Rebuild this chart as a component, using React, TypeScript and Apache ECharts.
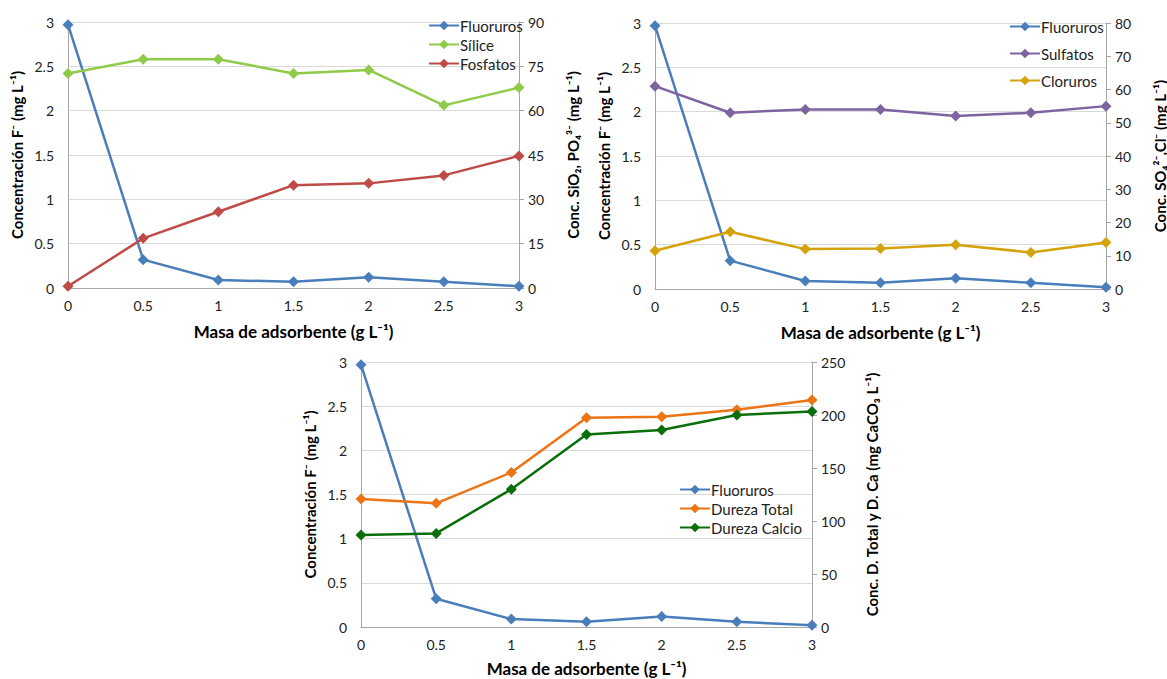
import React, { useEffect, useRef } from "react";
import * as echarts from "echarts";

const masa = [0, 0.5, 1, 1.5, 2, 2.5, 3];

// Chart 1
const fluor1 = [2.97, 0.32, 0.09, 0.07, 0.12, 0.07, 0.02];
const silice = [72.6, 77.4, 77.4, 72.6, 73.8, 61.8, 67.8];
const fosfatos = [0.6, 16.8, 25.8, 34.8, 35.4, 38.1, 44.7];

// Chart 2
const fluor2 = [2.97, 0.32, 0.09, 0.07, 0.12, 0.07, 0.02];
const sulfatos = [61, 53, 54, 54, 52, 53, 55];
const cloruros = [11.5, 17.2, 12, 12.2, 13.3, 11, 14];

// Chart 3
const fluor3 = [2.97, 0.32, 0.09, 0.06, 0.12, 0.06, 0.02];
const durezaTotal = [120.8, 116.7, 145.8, 197.5, 198.3, 205, 214.2];
const durezaCalcio = [86.7, 88.3, 130, 181.7, 185.8, 200, 203.3];

const xName = "Masa de adsorbente (g L\u207B\u00B9)";
const leftName = "Concentración F\u207B (mg L\u207B\u00B9)";
const right1Name = "Conc. SiO\u2082, PO\u2084\u00B3\u207B (mg L\u207B\u00B9)";
const right2Name = "Conc. SO\u2084\u00B2\u207B,Cl\u207B (mg L\u207B\u00B9)";
const right3Name = "Conc. D. Total y D. Ca (mg CaCO\u2083 L\u207B\u00B9)";

const FONT = "Lato, 'Open Sans', sans-serif";
const C_BLUE = "#4A7EBB";
const C_GREEN = "#8FCB48";
const C_RED = "#BE4B48";
const C_PURPLE = "#7F63A1";
const C_GOLD = "#D4A20A";
const C_ORANGE = "#EC7414";
const C_DGREEN = "#0A6E0A";

const pairs = (ys: number[]) => masa.map((x, i) => [x, ys[i]]);

const grids = [
  { left: 68, top: 22, width: 451, height: 266, outerBoundsMode: "none", containLabel: false },
  { left: 655, top: 23, width: 451, height: 266, outerBoundsMode: "none", containLabel: false },
  { left: 361, top: 362, width: 451, height: 265, outerBoundsMode: "none", containLabel: false },
];

function xAxis(gi: number, gap: number) {
  return {
    type: "value",
    gridIndex: gi,
    min: 0,
    max: 3,
    interval: 0.5,
    name: xName,
    nameLocation: "middle",
    nameGap: gap,
    nameTextStyle: { fontFamily: FONT, fontSize: 17, fontWeight: "bold", color: "#000" },
    axisLine: { show: true, lineStyle: { color: "#A6A6A6", width: 1 } },
    axisTick: { show: false },
    axisLabel: { fontFamily: FONT, fontSize: 14, color: "#222", margin: 10 },
    splitLine: { show: false },
  };
}

function leftAxis(gi: number) {
  return {
    type: "value",
    gridIndex: gi,
    position: "left",
    min: 0,
    max: 3,
    interval: 0.5,
    name: leftName,
    nameLocation: "middle",
    nameGap: 44,
    nameTextStyle: { fontFamily: FONT, fontSize: 15, fontWeight: "bold", color: "#000" },
    axisLine: { show: true, lineStyle: { color: "#A6A6A6", width: 1 } },
    axisTick: { show: false },
    axisLabel: { fontFamily: FONT, fontSize: 14, color: "#222", margin: 14 },
    splitLine: { show: true, lineStyle: { color: "#D9D9D9", width: 1 } },
  };
}

function rightAxis(gi: number, max: number, interval: number, name: string, gap: number) {
  return {
    type: "value",
    gridIndex: gi,
    position: "right",
    min: 0,
    max,
    interval,
    name,
    nameLocation: "middle",
    nameGap: gap,
    nameRotate: 90,
    nameTextStyle: { fontFamily: FONT, fontSize: 15, fontWeight: "bold", color: "#000" },
    axisLine: { show: true, lineStyle: { color: "#A6A6A6", width: 1 } },
    axisTick: { show: true, inside: false, length: 5, lineStyle: { color: "#A6A6A6" } },
    axisLabel: { fontFamily: FONT, fontSize: 14, color: "#222", margin: 9 },
    splitLine: { show: false },
  };
}

function line(name: string, color: string, ys: number[], xi: number, yi: number) {
  return {
    type: "line",
    name,
    xAxisIndex: xi,
    yAxisIndex: yi,
    data: pairs(ys),
    symbol: "diamond",
    symbolSize: 11,
    lineStyle: { color, width: 2.5 },
    itemStyle: { color },
    z: 2,
  };
}

function legend(names: string[], left: number, top: number, gap: number) {
  return {
    data: names,
    orient: "vertical",
    left,
    top,
    itemWidth: 30,
    itemHeight: 12,
    itemGap: gap,
    textStyle: { fontFamily: FONT, fontSize: 15, color: "#222", padding: [0, 0, 0, -4] },
  };
}

export default function App() {
  const ref = useRef<HTMLDivElement>(null);
  useEffect(() => {
    if (!ref.current) return;
    const chart = echarts.init(ref.current, null, { renderer: "svg" });
    chart.setOption({
      animation: false,
      backgroundColor: "#ffffff",
      grid: grids,
      xAxis: [xAxis(0, 35), xAxis(1, 35), xAxis(2, 33)],
      yAxis: [
        leftAxis(0),
        rightAxis(0, 90, 15, right1Name, 46),
        leftAxis(1),
        rightAxis(1, 80, 10, right2Name, 46),
        leftAxis(2),
        rightAxis(2, 250, 50, right3Name, 52),
      ],
      legend: [
        legend(["Fluoruros", "Sílice", "Fosfatos"], 423, 13, 4),
        legend(["Fluoruros ", "Sulfatos", "Cloruros"], 1004, 14, 12),
        legend(["Fluoruros  ", "Dureza Total", "Dureza Calcio"], 674, 477, 4),
      ],
      series: [
        line("Fluoruros", C_BLUE, fluor1, 0, 0),
        line("Sílice", C_GREEN, silice, 0, 1),
        line("Fosfatos", C_RED, fosfatos, 0, 1),
        line("Fluoruros ", C_BLUE, fluor2, 1, 2),
        line("Sulfatos", C_PURPLE, sulfatos, 1, 3),
        line("Cloruros", C_GOLD, cloruros, 1, 3),
        line("Fluoruros  ", C_BLUE, fluor3, 2, 4),
        line("Dureza Total", C_ORANGE, durezaTotal, 2, 5),
        line("Dureza Calcio", C_DGREEN, durezaCalcio, 2, 5),
      ],
    });
    return () => chart.dispose();
  }, []);
  return (
    <div
      ref={ref}
      style={{ position: "absolute", left: 0, top: 0, width: 1167, height: 679 }}
    />
  );
}
